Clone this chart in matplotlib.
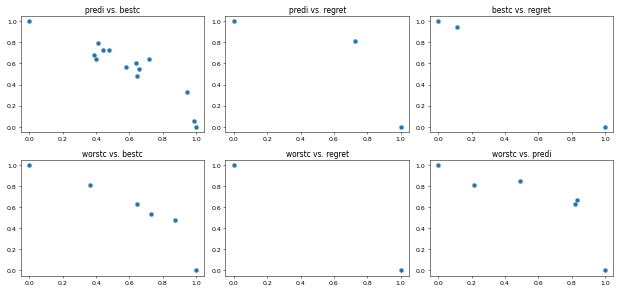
import matplotlib
matplotlib.use('Agg')
import matplotlib.pyplot as plt

# normalised objective values
titles = ['predi vs. bestc', 'predi vs. regret', 'bestc vs. regret',
          'worstc vs. bestc', 'worstc vs. regret', 'worstc vs. predi']

predi_bestc_x = [0.0, 0.39, 0.40, 0.41, 0.44, 0.48, 0.58, 0.64, 0.645, 0.66, 0.72, 0.945, 0.99, 1.0]
predi_bestc_y = [1.0, 0.68, 0.645, 0.79, 0.725, 0.73, 0.565, 0.60, 0.485, 0.545, 0.64, 0.325, 0.055, 0.0]

predi_regret_x = [0.0, 0.725, 1.0]
predi_regret_y = [1.0, 0.81, 0.0]

bestc_regret_x = [0.0, 0.11, 1.0]
bestc_regret_y = [1.0, 0.945, 0.0]

worstc_bestc_x = [0.0, 0.365, 0.645, 0.73, 0.875, 1.0]
worstc_bestc_y = [1.0, 0.805, 0.625, 0.53, 0.48, 0.0]

worstc_regret_x = [0.0, 1.0]
worstc_regret_y = [1.0, 0.0]

worstc_predi_x = [0.0, 0.215, 0.49, 0.82, 0.835, 1.0]
worstc_predi_y = [1.0, 0.81, 0.845, 0.625, 0.665, 0.0]

pairs = [
    (predi_bestc_x, predi_bestc_y),
    (predi_regret_x, predi_regret_y),
    (bestc_regret_x, bestc_regret_y),
    (worstc_bestc_x, worstc_bestc_y),
    (worstc_regret_x, worstc_regret_y),
    (worstc_predi_x, worstc_predi_y),
]


def main():
    fig, axes = plt.subplots(2, 3, figsize=(13.78, 6.53))
    for ax, title, (x, y) in zip(axes.flat, titles, pairs):
        ax.scatter(x, y, s=60, color='#1f77b4', edgecolors='white', linewidths=0.5)
        ax.set_title(title)
    fig.tight_layout()
    fig.savefig('out.png', dpi=45)


if __name__ == '__main__':
    main()
